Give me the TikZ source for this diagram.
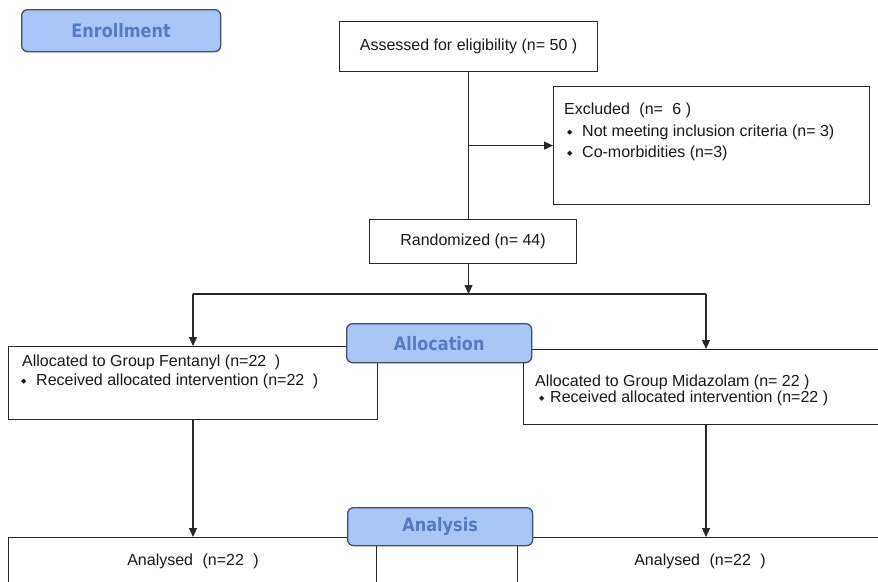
\documentclass[tikz,border=0pt]{standalone}
\usepackage{fontspec}
\setmainfont{Liberation Sans}
\newfontfamily\labfont[FakeStretch=0.87]{DejaVu Sans}
\newfontfamily\symf{DejaVu Sans}
\usetikzlibrary{arrows.meta}
\definecolor{lblfill}{RGB}{168,198,248}
\definecolor{lbltext}{RGB}{84,124,190}
\definecolor{lbldraw}{RGB}{68,78,98}
\definecolor{ln}{RGB}{40,40,40}
\definecolor{tx}{RGB}{25,25,25}
\newcommand{\bul}[1]{\makebox[#1][l]{\raisebox{2pt}{\symf\fontsize{7}{7}\selectfont ◆}}}
\begin{document}
\begin{tikzpicture}[x=1pt,y=-1pt,
  box/.style={draw=ln,line width=1.1pt,rectangle,inner sep=0pt,anchor=north west,fill=white,
    text=tx,font=\fontsize{16}{18}\selectfont},
  phase/.style={draw=lbldraw,fill=lblfill,rounded corners=6pt,line width=1.3pt,text=lbltext,
    font=\labfont\bfseries\fontsize{18.5}{20}\selectfont,inner sep=0pt,anchor=north west},
  txt/.style={font=\fontsize{16}{18}\selectfont,text=tx,inner sep=0pt,anchor=base west},
  ctxt/.style={txt,anchor=base},
  arr/.style={draw=ln,line width=1.1pt,-{Triangle[length=9pt,width=8pt]}},
  con/.style={draw=ln,line width=1.1pt}]
\clip (0,0) rectangle (878,581);
\fill[white] (0,0) rectangle (878,581);

% boxes
\node[box,minimum width=258pt,minimum height=50pt] (assess) at (339,21) {Assessed for eligibility (n= 50 )};
\node[box,minimum width=316pt,minimum height=118pt] (excl) at (553,86) {};
\node[box,minimum width=207pt,minimum height=44pt] (rand) at (369,219) {Randomized (n= 44)};
\node[box,minimum width=369pt,minimum height=73pt] (fent) at (8,346) {};
\node[box,minimum width=370pt,minimum height=75pt] (mid) at (523,349) {};
\node[box,minimum width=368pt,minimum height=80pt] (anl) at (8,537) {};
\node[box,minimum width=370pt,minimum height=80pt] (anr) at (517,537) {};

% texts
\node[txt] (ex1) at (564,114) {Excluded\hspace{5pt} (n=\hspace{5pt} 6 )};
\node[txt] (ex2) at (567,136) {\bul{15pt}Not meeting inclusion criteria (n= 3)};
\node[txt] (ex3) at (567,157) {\bul{15pt}Co-morbidities (n=3)};
\node[txt] (f1) at (22,366) {Allocated to Group Fentanyl (n=22\hspace{4pt} )};
\node[txt] (f2) at (21,385) {\bul{15pt}Received allocated intervention (n=22\hspace{4pt} )};
\node[txt] (m1) at (535,386) {Allocated to Group Midazolam (n= 22 )};
\node[txt] (m2) at (539,402) {\bul{11pt}Received allocated intervention (n=22 )};
\node[ctxt] (a1) at (193,565) {Analysed\hspace{5pt} (n=22\hspace{5pt} )};
\node[ctxt] (a2) at (700,565) {Analysed\hspace{5pt} (n=22\hspace{5pt} )};

% connectors
\draw[con] (assess.south) -- (assess.south |- rand.north);
\coordinate (br) at (assess.south |- excl.west);
\draw[arr] (br) -- (excl.west);
\coordinate (hs) at (assess.south |- 0,294);
\draw[arr] (assess.south |- rand.south) -- (hs);
\coordinate (hl) at (193,294);
\coordinate (hr) at (706,294);
\draw[con] (hl) -- (hr);
\draw[arr] (hl) -- (hl |- fent.north);
\draw[arr] (hr) -- (hr |- mid.north);
\draw[arr] (hl |- fent.south) -- (hl |- anl.north);
\draw[arr] (hr |- mid.south) -- (hr |- anr.north);

% phase labels
\node[phase,minimum width=199pt,minimum height=42pt] (enr) at (21,9) {Enrollment};
\node[phase,minimum width=185pt,minimum height=39pt] (alloc) at (346,323) {Allocation};
\node[phase,minimum width=185pt,minimum height=38pt] (anal) at (347,507) {Analysis};
\end{tikzpicture}
\end{document}
